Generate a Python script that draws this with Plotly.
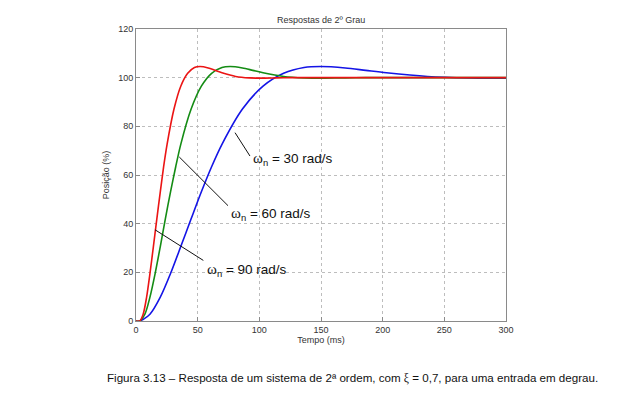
import plotly.graph_objects as go

# Data (time in ms, position in %)
t_90 = [0, 3, 5.8, 8.6, 11.3, 14.1, 16.9, 19.7, 22.4, 25.2, 30.8, 36.3, 41.9, 47.4, 51.9,
        58.6, 64.1, 69.7, 80.8, 91.9, 103, 114, 125, 136, 300]
y_90 = [0, 0, 2.8, 9.8, 19.5, 30.6, 42.0, 53.1, 63.4, 72.6, 87.1, 96.5, 101.8, 104.2, 104.6,
        104.0, 103.0, 102.0, 100.5, 99.9, 99.8, 99.9, 100.0, 100.0, 100.0]

t_60 = [0, 3, 7.2, 11.3, 15.5, 19.7, 23.8, 28, 32.2, 36.3, 44.7, 53, 61.3, 69.7, 76.3,
        86.3, 94.7, 103, 119.7, 136.3, 153, 169.7, 186.3, 203, 300]
y_60 = [0, 0, 2.8, 9.8, 19.5, 30.6, 42.0, 53.1, 63.4, 72.6, 87.1, 96.5, 101.8, 104.2, 104.6,
        104.0, 103.0, 102.0, 100.5, 99.9, 99.8, 99.9, 100.0, 100.0, 100.0]

t_30 = [0, 3, 11.3, 19.7, 28, 36.3, 44.7, 53, 61.3, 69.7, 86.3, 103, 119.7, 136.3, 149.7,
        169.7, 186.3, 203, 236.3, 269.7, 300]
y_30 = [0, 0, 2.8, 9.8, 19.5, 30.6, 42.0, 53.1, 63.4, 72.6, 87.1, 96.5, 101.8, 104.2, 104.6,
        104.0, 103.0, 102.0, 100.5, 99.9, 99.8]

x_ticks = [0, 50, 100, 150, 200, 250, 300]
y_ticks = [0, 20, 40, 60, 80, 100, 120]

series = [
    (t_30, y_30, "rgb(20,20,230)"),
    (t_60, y_60, "rgb(20,140,20)"),
    (t_90, y_90, "rgb(235,20,20)"),
]

fig = go.Figure()
for t, y, c in series:
    fig.add_trace(go.Scatter(x=t, y=y, mode="lines",
                             line=dict(color=c, width=1.6, shape="spline", smoothing=0.8),
                             showlegend=False, hoverinfo="skip"))

font_main = "Liberation Sans, Arial, sans-serif"
axis_common = dict(showgrid=True, gridcolor="#bdbdbd", griddash="dot", gridwidth=1,
                   zeroline=False, showline=True, mirror=True, linecolor="#8a8a8a",
                   linewidth=1, ticks="inside", ticklen=4, tickcolor="#8a8a8a",
                   tickfont=dict(size=9, color="#333333", family=font_main))

fig.update_xaxes(range=[0, 300], tickvals=x_ticks,
                 title=dict(text="Tempo (ms)", font=dict(size=9, color="#333333", family=font_main), standoff=2),
                 **axis_common)
fig.update_yaxes(range=[0, 120], tickvals=y_ticks,
                 title=dict(text="Posição (%)", font=dict(size=9, color="#333333", family=font_main), standoff=7),
                 **axis_common)

w = "<span style='font-family:Liberation Serif, Times New Roman, serif;font-size:15px'>ω</span><sub>n</sub>"
labels = [
    # (line start t, y), (line end t, y), text anchor (t, y), text
    ((80.3, 77.4), (92.4, 67.8), (93.3, 66.6), w + " = 30 rad/s"),
    ((35.1, 67.4), (74.6, 47.4), (75.4, 44.1), w + " = 60 rad/s"),
    ((15.4, 37.5), (54.6, 24.9), (56.0, 21.0), w + " = 90 rad/s"),
]
for (x0, y0), (x1, y1), (tx, ty), txt in labels:
    fig.add_shape(type="line", x0=x0, y0=y0, x1=x1, y1=y1, xref="x", yref="y",
                  line=dict(color="#111111", width=1))
    fig.add_annotation(x=tx, y=ty, xref="x", yref="y", text=txt, showarrow=False,
                       xanchor="left", yanchor="middle",
                       font=dict(size=13.5, color="#111111", family=font_main))

fig.add_annotation(x=0.5, y=1.0, xref="paper", yref="paper", yshift=2,
                   text="Respostas de 2º Grau", showarrow=False, xanchor="center", yanchor="bottom",
                   font=dict(size=9, color="#333333", family=font_main))

# page body adds an 8px offset; margins compensate
L, R, T, B = 128, 123, 21, 85
fig.add_annotation(x=0, y=0, xref="paper", yref="paper", showarrow=False,
                   text="Figura 3.13 – Resposta de um sistema de 2ª ordem, com "
                        "<span style='font-family:Liberation Serif, serif'>ξ</span> = 0,7, para uma entrada em degrau.",
                   font=dict(size=11.6, color="#111111", family=font_main))

fig.update_layout(width=621, height=398, margin=dict(l=L, r=R, t=T, b=B),
                  paper_bgcolor="white", plot_bgcolor="white")

pw, ph = 621 - L - R, 398 - T - B
cx, cy = 352 - 8, 378 - 8
fig.layout.annotations[-1].update(x=(cx - L) / pw, y=(398 - B - cy) / ph,
                                  xanchor="center", yanchor="middle")

fig.write_html("out.html")
